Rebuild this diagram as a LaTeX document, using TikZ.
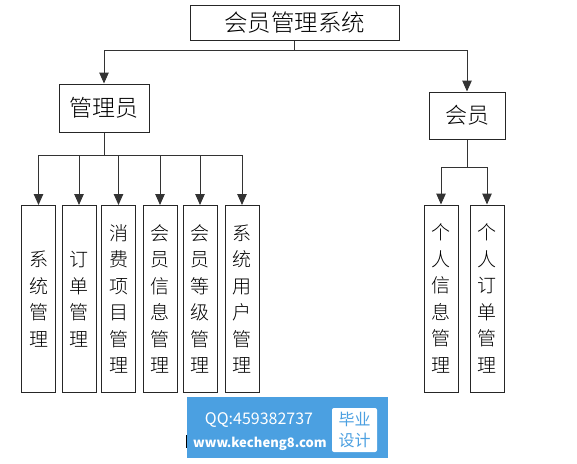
\documentclass[tikz,border=0pt]{standalone}
\usepackage{fontspec}
\setmainfont{Noto Sans CJK SC Light}
\newfontfamily\wmfont{Noto Sans CJK SC}
\usetikzlibrary{arrows.meta}
\definecolor{wmblue}{RGB}{75,160,225}
\tikzset{
  box/.style={draw=black!85, line width=1pt, inner sep=0pt, align=center},
  vbox/.style={box, minimum width=34pt, minimum height=187pt, font=\fontsize{19}{26.5}\selectfont},
  link/.style={draw=black!80, line width=1pt},
  arr/.style={link, -{Triangle[width=9.5pt,length=11pt]}},
}
\begin{document}
\begin{tikzpicture}[x=1pt,y=-1pt]
\useasboundingbox (0,0) rectangle (577,463);
% top level
\node[box, minimum width=209pt, minimum height=35pt, font=\fontsize{23.5}{24}\selectfont] (sys) at (294.5,22.5) {会员管理系统};
\node[box, minimum width=90pt, minimum height=48pt, font=\fontsize{23}{24}\selectfont] (admin) at (104,108) {管理员};
\node[box, minimum width=76pt, minimum height=47pt, font=\fontsize{22}{24}\selectfont] (member) at (467,115.5) {会员};
% admin children
\node[vbox] (a1) at (38.5,299) {系\\统\\管\\理};
\node[vbox] (a2) at (79,299) {订\\单\\管\\理};
\node[vbox] (a3) at (118.5,299) {消\\费\\项\\目\\管\\理};
\node[vbox] (a4) at (160,299) {会\\员\\信\\息\\管\\理};
\node[vbox] (a5) at (200,299) {会\\员\\等\\级\\管\\理};
\node[vbox] (a6) at (242,299) {系\\统\\用\\户\\管\\理};
% member children
\node[vbox] (m1) at (441,298.5) {个\\人\\信\\息\\管\\理};
\node[vbox] (m2) at (487,298.5) {个\\人\\订\\单\\管\\理};
% junctions
\coordinate (j1) at (294.5,50);
\coordinate (j2) at (104,155);
\coordinate (j3) at (467,167);
\draw[link] (sys.south) -- (j1);
\draw[arr] (j1) -| (admin.north);
\draw[arr] (j1) -| (member.north);
\draw[link] (admin.south) -- (j2);
\foreach \n in {a1,a2,a3,a4,a5,a6} \draw[arr] (j2) -| (\n.north);
\draw[link] (member.south) -- (j3);
\foreach \n in {m1,m2} \draw[arr] (j3) -| (\n.north);
% watermark
\fill[wmblue] (187,397) rectangle (388,458);
\fill[white, rounded corners=2pt] (332,408) rectangle (377,452);
\node[text=white, font=\wmfont\fontsize{16}{18}\selectfont, anchor=center] (qq) at (259,420) {QQ:459382737};
\node[text=white, font=\wmfont\bfseries\fontsize{13}{15}\selectfont, anchor=center] (www) at (260,444) {www.kecheng8.com};
\node[text=wmblue, font=\wmfont\fontsize{16}{21}\selectfont, align=center, inner sep=0pt] (bysj) at (354.5,430) {毕业\\设计};
\draw[black, line width=1pt] (186,435) -- (186,448);
\end{tikzpicture}
\end{document}
